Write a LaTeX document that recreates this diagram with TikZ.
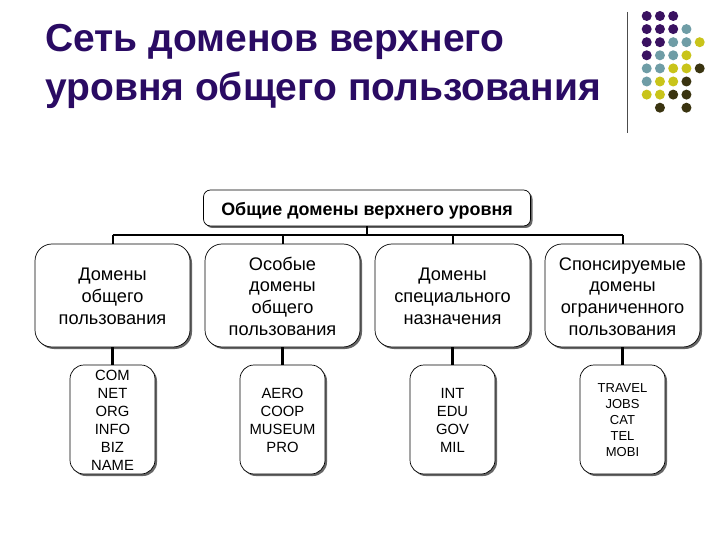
\documentclass[tikz,border=0pt]{standalone}
\usepackage{fontspec}
\setmainfont{Liberation Sans}
\usetikzlibrary{shadows}
\definecolor{dotP}{HTML}{3A1261}
\definecolor{dotT}{HTML}{6F9DA6}
\definecolor{dotY}{HTML}{C9C41A}
\definecolor{dotD}{HTML}{3A3410}
\definecolor{titlecol}{HTML}{2A0B63}
\tikzset{
  x=1pt,y=-1pt,
  boxbase/.style={draw=black,line width=0.7pt,fill=white,align=center,inner sep=0pt,
    drop shadow={shadow xshift=2pt,shadow yshift=-2pt,opacity=1,fill=black!60}},
  rootbox/.style={boxbase,minimum width=327pt,minimum height=36pt,rounded corners=7pt,
    font=\fontsize{17.9}{20}\selectfont\bfseries},
  midbox/.style={boxbase,minimum width=155pt,minimum height=103pt,rounded corners=17pt,
    font=\fontsize{18.2}{21.7}\selectfont},
  leafbox/.style={boxbase,minimum width=85pt,minimum height=109pt,rounded corners=14pt,
    font=\fontsize{14.8}{18}\selectfont},
  smallbox/.style={leafbox,font=\fontsize{13}{16}\selectfont},
  wire/.style={line width=2pt,black},
  thickwire/.style={line width=3pt,black},
  titletext/.style={anchor=base west,inner sep=0pt,font=\fontsize{39}{40}\selectfont\bfseries,text=titlecol},
  dotmark/.style={circle,inner sep=0pt,minimum size=10pt}
}
\begin{document}
\begin{tikzpicture}
\useasboundingbox (0,0) rectangle (720,540);
\fill[white] (0,0) rectangle (720,540);
\node[titletext] (t1) at (45,52) {Сеть доменов верхнего};
\node[titletext] (t2) at (45,101) {уровня общего пользования};
\draw[black!70,line width=1pt] (627.5,12) -- (627.5,133);
\foreach \c/\col/\row in {
 dotP/1/1,dotP/2/1,dotP/3/1,
 dotP/1/2,dotP/2/2,dotP/3/2,dotT/4/2,
 dotP/1/3,dotP/2/3,dotT/3/3,dotT/4/3,dotY/5/3,
 dotP/1/4,dotT/2/4,dotT/3/4,dotY/4/4,
 dotT/1/5,dotT/2/5,dotY/3/5,dotY/4/5,dotD/5/5,
 dotT/1/6,dotY/2/6,dotY/3/6,dotD/4/6,
 dotY/1/7,dotY/2/7,dotD/3/7,dotD/4/7,
 dotD/2/8,dotD/4/8}{
  \node[dotmark,fill=\c] (d\col-\row) at ({646.7+13.25*(\col-1)},{16+13.1*(\row-1)}) {};
}
\node[rootbox] (root) at (367,208) {\rule{0pt}{18pt}Общие домены верхнего уровня};
\node[midbox] (m1) at (112.5,295.5) {\rule{0pt}{14.5pt}Домены\\общего\\пользования};
\node[midbox] (m2) at (282.5,295.5) {\rule{0pt}{14.5pt}Особые\\домены\\общего\\пользования};
\node[midbox] (m3) at (452.5,295.5) {\rule{0pt}{14.5pt}Домены\\специального\\назначения};
\node[midbox] (m4) at (622.5,295.5) {\rule{0pt}{14.5pt}Спонсируемые\\домены\\ограниченного\\пользования};
\node[leafbox] (l1) at (112.5,419.5) {\rule{0pt}{12pt}COM\\NET\\ORG\\INFO\\BIZ\\NAME};
\node[leafbox] (l2) at (282.5,419.5) {\rule{0pt}{12pt}AERO\\COOP\\MUSEUM\\PRO};
\node[leafbox] (l3) at (452.5,419.5) {\rule{0pt}{12pt}INT\\EDU\\GOV\\MIL};
\node[smallbox] (l4) at (622.5,419.5) {\rule{0pt}{11pt}TRAVEL\\JOBS\\CAT\\TEL\\MOBI};
\coordinate (busl) at (112.5,235);
\coordinate (busr) at (622.5,235);
\draw[wire] (busl) -- (busr);
\draw[wire] (root.south) -- (root.south |- busl);
\foreach \n in {m1,m2,m3,m4}{\draw[wire] (\n.north) -- (\n.north |- busl);}
\foreach \i in {1,2,3,4}{\draw[thickwire] (m\i.south) -- (l\i.north);}
\end{tikzpicture}
\end{document}
